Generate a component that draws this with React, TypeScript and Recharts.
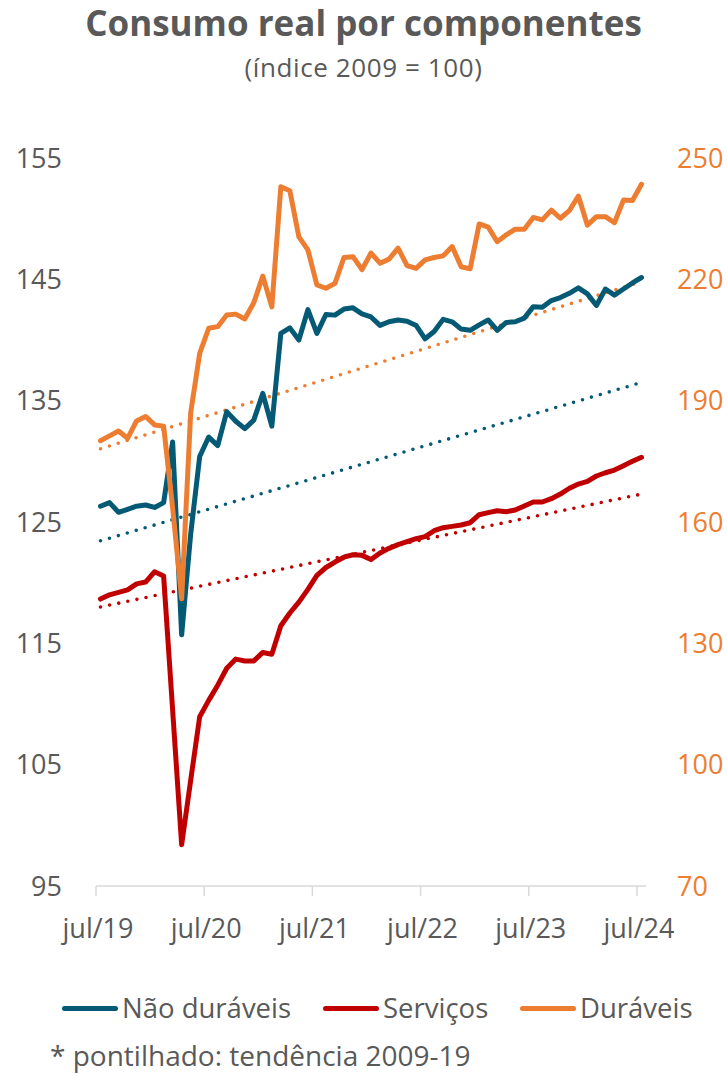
import * as React from 'react';
import { LineChart, Line, XAxis, YAxis } from 'recharts';

// monthly categories, jul/19 .. jul/24
const monthNames = ['jan', 'fev', 'mar', 'abr', 'mai', 'jun', 'jul', 'ago', 'set', 'out', 'nov', 'dez'];
const categories: string[] = [];
for (let i = 0; i < 61; i++) {
    const m = (6 + i) % 12;
    const y = 19 + Math.floor((6 + i) / 12);
    categories.push(`${monthNames[m]}/${y}`);
}

// left axis (índice 2009 = 100)
const naoDuraveis = [
    126.3, 126.6, 125.8, 126.05, 126.3, 126.4, 126.2, 126.6, 131.6, 115.7,
    124.0, 130.4, 132.0, 131.3, 134.1, 133.3, 132.7, 133.4, 135.6, 132.9,
    140.55, 141.0, 140.0, 142.5, 140.55, 142.1, 142.05, 142.55, 142.65, 142.15,
    141.9, 141.2, 141.5, 141.65, 141.55, 141.2, 140.1, 140.7, 141.7, 141.5,
    140.9, 140.8, 141.25, 141.65, 140.8, 141.45, 141.5, 141.8, 142.75, 142.7,
    143.25, 143.5, 143.85, 144.3, 143.8, 142.85, 144.2, 143.7, 144.2, 144.7,
    145.15
];
const servicos = [
    118.65, 119.0, 119.2, 119.4, 119.9, 120.05, 120.9, 120.55, 109.5, 98.4,
    103.7, 108.95, 110.3, 111.55, 112.95, 113.7, 113.55, 113.55, 114.25, 114.1,
    116.45, 117.5, 118.4, 119.45, 120.6, 121.25, 121.7, 122.1, 122.3, 122.25,
    121.9, 122.45, 122.83, 123.13, 123.38, 123.62, 123.79, 124.28, 124.53, 124.64,
    124.75, 124.94, 125.6, 125.77, 125.93, 125.85, 125.99, 126.32, 126.65, 126.65,
    126.92, 127.3, 127.78, 128.13, 128.35, 128.79, 129.06, 129.28, 129.64, 130.0,
    130.33
];
// right axis
const duraveis = [
    180.1, 181.3, 182.5, 180.7, 185.0, 186.1, 184.0, 183.7, 163.5, 141.0,
    187.0, 201.7, 207.9, 208.3, 211.2, 211.4, 210.2, 214.2, 220.8, 213.2,
    242.9, 241.9, 230.5, 227.3, 218.6, 217.8, 219.0, 225.4, 225.6, 222.4,
    226.5, 224.0, 225.0, 227.7, 223.4, 222.7, 224.8, 225.4, 225.8, 228.1,
    223.1, 222.6, 233.7, 232.9, 229.3, 231.0, 232.4, 232.4, 235.3, 234.7,
    237.1, 235.1, 237.0, 240.6, 233.4, 235.5, 235.5, 234.0, 239.6, 239.5,
    243.5
];

// tendência 2009-19 (start, end)
const trendNaoDuraveis = [123.45, 136.5];
const trendServicos = [118.0, 127.3];
const trendDuraveis = [178.1, 219.4];

const leftTicks = [95, 105, 115, 125, 135, 145, 155];
const rightTicks = [70, 100, 130, 160, 190, 220, 250];
const xTicks = [0, 12, 24, 36, 48, 60];

const TEAL = '#045A74';
const RED = '#C00000';
const ORANGE = '#ED7D31';
const GRAY = '#595959';
const FONT = "'Open Sans', sans-serif";

const last = categories.length - 1;
const data = categories.map((c, i) => ({
    x: i + 0.5,
    label: c,
    nao: naoDuraveis[i],
    serv: servicos[i],
    dur: duraveis[i],
    tNao: i === 0 ? trendNaoDuraveis[0] : i === last ? trendNaoDuraveis[1] : null,
    tServ: i === 0 ? trendServicos[0] : i === last ? trendServicos[1] : null,
    tDur: i === 0 ? trendDuraveis[0] : i === last ? trendDuraveis[1] : null,
}));

const legendItems = [
    { name: 'Não duráveis', color: TEAL, left: 62 },
    { name: 'Serviços', color: RED, left: 323 },
    { name: 'Duráveis', color: ORANGE, left: 520 },
];

export default function App() {
    const dotted = { strokeWidth: 3.6, strokeDasharray: '0 9.3', strokeLinecap: 'round' as const };
    return (
        <div style={{ position: 'absolute', left: 0, top: 0, width: 727, height: 1076, background: '#fff', fontFamily: FONT, color: GRAY }}>
            <div style={{ position: 'absolute', top: 4, width: 727, textAlign: 'center', fontSize: 35, fontWeight: 700, lineHeight: '38px' }}>
                Consumo real por componentes
            </div>
            <div style={{ position: 'absolute', top: 50, width: 727, textAlign: 'center', fontSize: 26, lineHeight: '34px', letterSpacing: 0.6 }}>
                (índice 2009 = 100)
            </div>
            <LineChart width={727} height={946} data={data} margin={{ top: 158, right: 0, bottom: 0, left: 0 }}>
                <XAxis dataKey="x" type="number" domain={[0, 61]} ticks={xTicks} allowDataOverflow
                    tickFormatter={(t: number) => categories[t]} height={60}
                    stroke="#D9D9D9" strokeWidth={1.5} tickSize={10} tickMargin={23}
                    tick={{ fill: GRAY, fontSize: 27, fontFamily: FONT, dx: 2 }} />
                <YAxis yAxisId="left" domain={[95, 155]} ticks={leftTicks} width={96}
                    axisLine={false} tickLine={false} tickSize={0} tickMargin={34}
                    tick={{ fill: GRAY, fontSize: 27, fontFamily: FONT }} />
                <YAxis yAxisId="right" orientation="right" domain={[70, 250]} ticks={rightTicks} width={81}
                    axisLine={false} tickLine={false} tickSize={0} tickMargin={31}
                    tick={{ fill: ORANGE, fontSize: 27, fontFamily: FONT }} />
                <Line yAxisId="left" dataKey="tNao" stroke={TEAL} {...dotted} dot={false} activeDot={false} connectNulls isAnimationActive={false} />
                <Line yAxisId="left" dataKey="tServ" stroke={RED} {...dotted} dot={false} activeDot={false} connectNulls isAnimationActive={false} />
                <Line yAxisId="right" dataKey="tDur" stroke={ORANGE} {...dotted} dot={false} activeDot={false} connectNulls isAnimationActive={false} />
                <Line yAxisId="left" dataKey="serv" stroke={RED} strokeWidth={5} strokeLinejoin="round" strokeLinecap="round" dot={false} activeDot={false} isAnimationActive={false} />
                <Line yAxisId="left" dataKey="nao" stroke={TEAL} strokeWidth={5} strokeLinejoin="round" strokeLinecap="round" dot={false} activeDot={false} isAnimationActive={false} />
                <Line yAxisId="right" dataKey="dur" stroke={ORANGE} strokeWidth={5} strokeLinejoin="round" strokeLinecap="round" dot={false} activeDot={false} isAnimationActive={false} />
            </LineChart>
            {legendItems.map((it) => (
                <div key={it.name} style={{ position: 'absolute', left: it.left, top: 990, height: 36, display: 'flex', alignItems: 'center' }}>
                    <div style={{ width: 56, height: 5, borderRadius: 3, background: it.color, marginRight: 4 }} />
                    <span style={{ fontSize: 27.5, lineHeight: '36px' }}>{it.name}</span>
                </div>
            ))}
            <div style={{ position: 'absolute', left: 50, top: 1037, fontSize: 28, lineHeight: '36px' }}>
                * pontilhado: tendência 2009-19
            </div>
        </div>
    );
}
